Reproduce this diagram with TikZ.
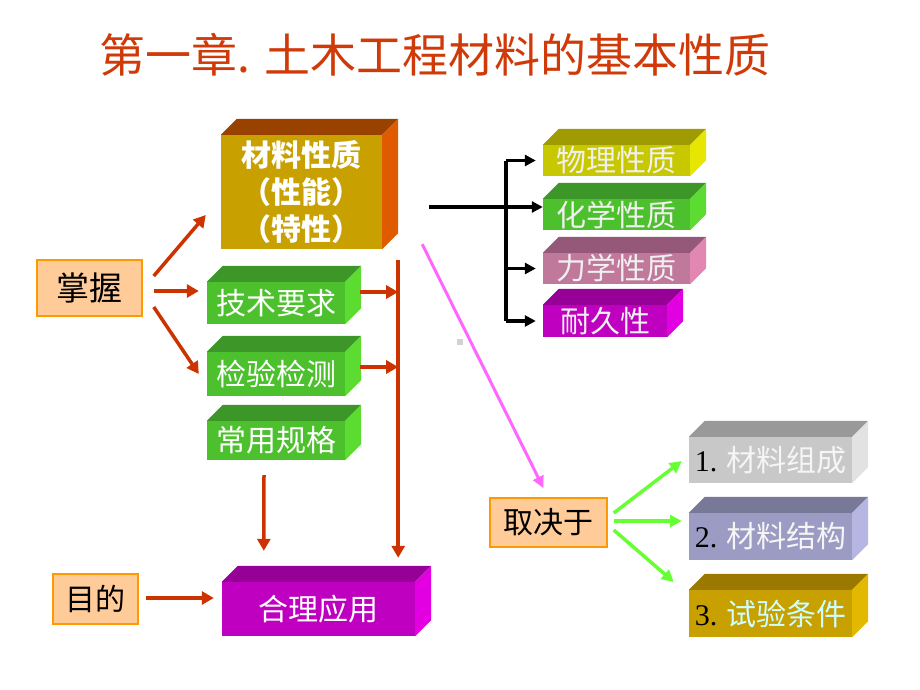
\documentclass[tikz,border=0pt]{standalone}
\usepackage{fontspec}
\setmainfont{Noto Sans CJK SC}
\newfontfamily\numfont{Liberation Serif}
\usetikzlibrary{arrows.meta,calc}
\definecolor{title_red}{RGB}{208, 58, 8}
\definecolor{arrow_red}{RGB}{204, 51, 0}
\definecolor{arrow_green}{RGB}{102, 255, 51}
\definecolor{arrow_pink}{RGB}{255, 102, 255}
\definecolor{tag_fill}{RGB}{255, 204, 153}
\definecolor{tag_draw}{RGB}{255, 153, 0}
\definecolor{gold_front}{RGB}{200, 160, 0}
\definecolor{gold_top}{RGB}{153, 66, 0}
\definecolor{gold_side}{RGB}{224, 90, 0}
\definecolor{grn_front}{RGB}{77, 192, 46}
\definecolor{grn_top}{RGB}{60, 150, 40}
\definecolor{grn_side}{RGB}{92, 220, 48}
\definecolor{mag_front}{RGB}{192, 0, 192}
\definecolor{mag_top}{RGB}{150, 0, 150}
\definecolor{mag_side}{RGB}{226, 0, 226}
\definecolor{yel_front}{RGB}{200, 200, 0}
\definecolor{yel_top}{RGB}{160, 155, 0}
\definecolor{yel_side}{RGB}{230, 230, 0}
\definecolor{pnk_front}{RGB}{192, 120, 155}
\definecolor{pnk_top}{RGB}{150, 88, 120}
\definecolor{pnk_side}{RGB}{225, 135, 178}
\definecolor{gry_front}{RGB}{200, 200, 200}
\definecolor{gry_top}{RGB}{153, 153, 153}
\definecolor{gry_side}{RGB}{226, 226, 226}
\definecolor{lav_front}{RGB}{155, 155, 195}
\definecolor{lav_top}{RGB}{120, 120, 152}
\definecolor{lav_side}{RGB}{182, 182, 226}
\definecolor{ochre_front}{RGB}{200, 160, 0}
\definecolor{ochre_top}{RGB}{155, 120, 0}
\definecolor{ochre_side}{RGB}{226, 184, 0}
\definecolor{pale_cyan}{RGB}{204, 255, 255}
\tikzstyle{cube}=[rectangle,inner sep=0pt,text=white,
  font=\fontsize{30}{36}\selectfont]
\tikzstyle{tag}=[rectangle,fill=tag_fill,draw=tag_draw,line width=1.5pt,
  inner sep=0pt,font=\fontsize{30}{36}\selectfont]
\tikzstyle{redarrow}=[draw=arrow_red,line width=3.5pt,
  -{Triangle[length=12pt,width=13pt]}]
\tikzstyle{blackarrow}=[draw=black,line width=3.5pt,
  -{Triangle[length=11pt,width=11pt]}]
\tikzstyle{greenarrow}=[draw=arrow_green,line width=3.5pt,
  -{Triangle[length=12pt,width=12pt]}]
\newcommand{\cubefaces}[3]{%
  \fill[#2] (#1.north west) -- ++(16,-16) -- ($(#1.north east)+(16,-16)$)
    -- (#1.north east) -- cycle;
  \fill[#3] (#1.north east) -- ++(16,-16) -- ($(#1.south east)+(16,-16)$)
    -- (#1.south east) -- cycle;
}

\begin{document}
\begin{tikzpicture}[x=1pt,y=-1pt]
        \useasboundingbox (0,0) rectangle (920,690);
        \node [text=title_red,font=\fontsize{46}{50}\selectfont] (title) at (435,55) {第一章. 土木工程材料的基本性质};
        % left column
        \node [style=tag,minimum width=105,minimum height=56,font=\fontsize{33}{36}\selectfont] (zhangwo) at (89.5,288) {掌握};
        \node [style=tag,minimum width=85,minimum height=50] (mudi) at (95.5,599) {目的};
        \node [style=cube,fill=gold_front,minimum width=161,minimum height=114,align=center,
          font=\fontsize{30}{37}\selectfont\bfseries] (xingzhi) at (301.5,192) {材料性质\\（性能）\\（特性）};
        \node [style=cube,fill=grn_front,minimum width=138,minimum height=42] (jishu) at (276,303) {技术要求};
        \node [style=cube,fill=grn_front,minimum width=138,minimum height=44] (jianyan) at (276,374) {检验检测};
        \node [style=cube,fill=grn_front,minimum width=138,minimum height=39] (guige) at (276,440.5) {常用规格};
        \node [style=cube,fill=mag_front,minimum width=193,minimum height=54] (heli) at (318.5,609) {合理应用};
        \cubefaces{xingzhi}{gold_top}{gold_side}
        \cubefaces{jishu}{grn_top}{grn_side}
        \cubefaces{jianyan}{grn_top}{grn_side}
        \cubefaces{guige}{grn_top}{grn_side}
        \cubefaces{heli}{mag_top}{mag_side}
        % properties
        \node [style=cube,fill=yel_front,text=white!94!black,minimum width=147,minimum height=31] (wuli) at (616.5,160.5) {物理性质};
        \node [style=cube,fill=grn_front,text=white!94!black,minimum width=147,minimum height=31] (huaxue) at (616.5,214.5) {化学性质};
        \node [style=cube,fill=pnk_front,text=white!94!black,minimum width=147,minimum height=31] (lixue) at (616.5,268.5) {力学性质};
        \node [style=cube,fill=mag_front,text=white!94!black,minimum width=124,minimum height=32] (naijiu) at (605,321) {耐久性};
        \cubefaces{wuli}{yel_top}{yel_side}
        \cubefaces{huaxue}{grn_top}{grn_side}
        \cubefaces{lixue}{pnk_top}{pnk_side}
        \cubefaces{naijiu}{mag_top}{mag_side}
        % depends on
        \node [style=tag,minimum width=117,minimum height=49] (juedingyu) at (548.5,522.5) {取决于};
        \node [style=cube,fill=gry_front,text=white!96!black,minimum width=163,minimum height=46] (zucheng) at (770.5,460) {{\numfont\color{black}1.} 材料组成};
        \node [style=cube,fill=lav_front,text=white!96!black,minimum width=163,minimum height=47] (jiegou) at (770.5,536.5) {{\numfont\color{black}2.} 材料结构};
        \node [style=cube,fill=ochre_front,text=pale_cyan,minimum width=163,minimum height=47] (tiaojian) at (770.5,613.5) {{\numfont\color{black}3.} 试验条件};
        \cubefaces{zucheng}{gry_top}{gry_side}
        \cubefaces{jiegou}{lav_top}{lav_side}
        \cubefaces{tiaojian}{ochre_top}{ochre_side}
        % red arrows
        \coordinate (vtop) at ($(xingzhi.south east)+(16,11)$);
        \draw [style=redarrow] ($(zhangwo.east)+(11,-12)$) to ($(xingzhi.west)+(-15,23)$);
        \draw [style=redarrow] ($(zhangwo.east)+(11,3)$) to ($(jishu.west)+(-8,-12)$);
        \draw [style=redarrow] ($(zhangwo.east)+(11,19)$) to ($(jianyan.west)+(-8,0)$);
        \draw [style=redarrow] ($(jishu.east)+(15,-11)$) coordinate (j1) to (j1 -| vtop);
        \draw [style=redarrow] ($(jianyan.east)+(15,-7)$) coordinate (j2) to (j2 -| vtop);
        \draw [style=redarrow] (vtop) to ($(vtop |- heli.north)+(0,-24)$);
        \draw [style=redarrow] ($(guige.south)+(-12,15)$) to ($(heli.north west)+(42,-31)$);
        \draw [style=redarrow] ($(mudi.east)+(7,-1)$) to ($(heli.west)+(-8,-11)$);
        % black arrows
        \coordinate (btop) at ($(wuli.west)+(-37,0)$);
        \coordinate (bbot) at ($(naijiu.west)+(-37,0)$);
        \draw [draw=black,line width=3.5pt] (btop) to (bbot);
        \draw [style=blackarrow] ($(xingzhi.east)+(47,15)$) to ($(huaxue.west)+(0,-7.5)$);
        \draw [style=blackarrow] (btop) to ($(wuli.west)+(-7,0)$);
        \draw [style=blackarrow] (btop |- lixue.west) to ($(lixue.west)+(-7,0)$);
        \draw [style=blackarrow] (bbot) to ($(naijiu.west)+(-7,0)$);
        % pink and green arrows
        \draw [draw=arrow_pink,line width=3pt,-{Triangle[length=12pt,width=11pt]}] ($(xingzhi.south east)+(40,-5)$) to ($(juedingyu.north)+(-5,-9)$);
        \draw [style=greenarrow] ($(juedingyu.east)+(6,-9.5)$) to ($(zucheng.west)+(-7,1)$);
        \draw [style=greenarrow] ($(juedingyu.east)+(6,-1.5)$) to ($(jiegou.west)+(-7,-15.5)$);
        \draw [style=greenarrow] ($(juedingyu.east)+(6,7.5)$) to ($(tiaojian.west)+(-15,-31.5)$);
        \fill [gray!35] (457,339) rectangle (463,345);
    \end{tikzpicture}
\end{document}
